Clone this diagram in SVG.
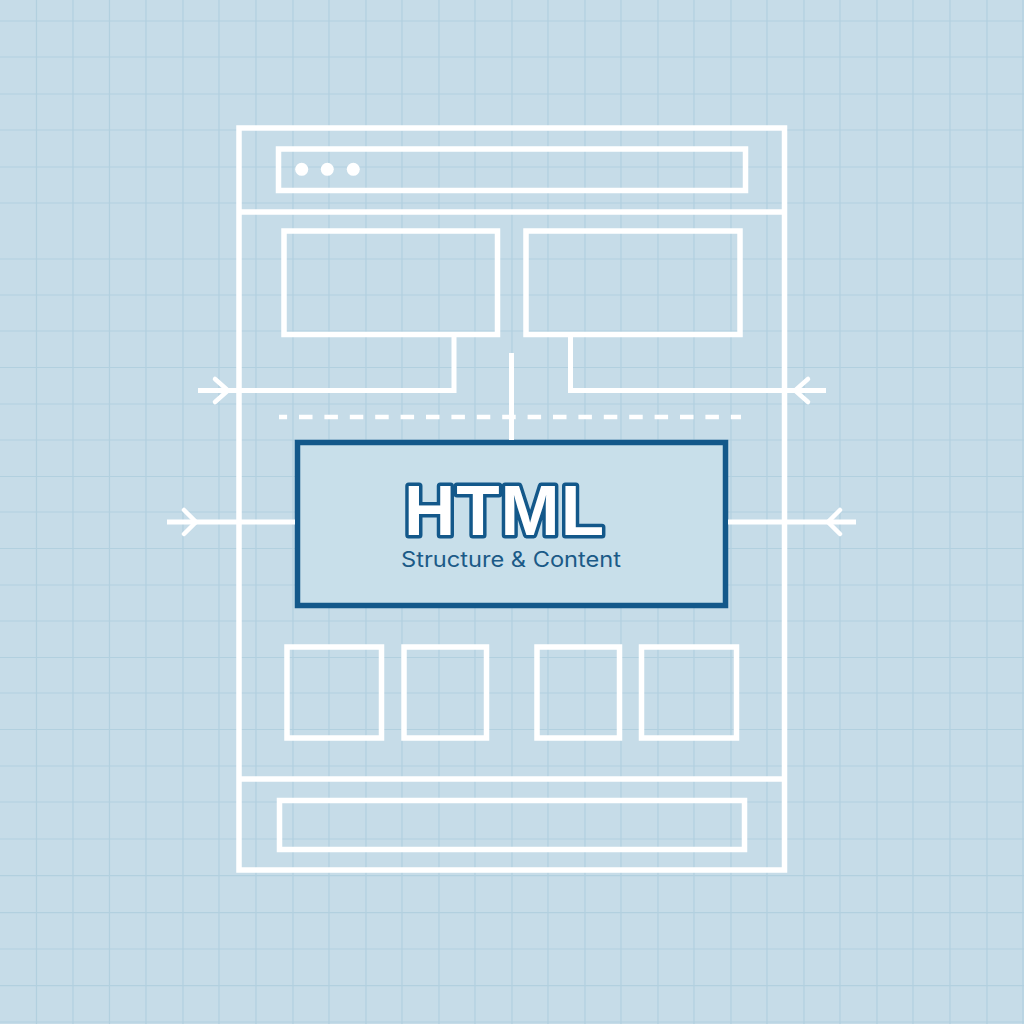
<svg xmlns="http://www.w3.org/2000/svg" width="1024" height="1024" viewBox="0 0 1024 1024">
<defs>
<style>
.grid{stroke:#b2d0df;stroke-width:1.2;fill:none}
.w{fill:none;stroke:#ffffff;stroke-width:5.5;stroke-linecap:butt;stroke-linejoin:miter}
.conn{fill:none;stroke:#ffffff;stroke-width:5;stroke-linecap:butt;stroke-linejoin:miter}
.chev{fill:none;stroke:#ffffff;stroke-width:4.5;stroke-linecap:round;stroke-linejoin:miter}
.dash{fill:none;stroke:#ffffff;stroke-width:4.5;stroke-dasharray:13.5 11.9}
.dot{fill:#ffffff}
.html{fill:#c8dfea;stroke:#13588a;stroke-width:5.5}
.title{font-family:"Liberation Sans",Arial,sans-serif;font-weight:bold;font-size:71px;letter-spacing:1px;fill:#ffffff;stroke:#13588a;stroke-width:7;paint-order:stroke;stroke-linejoin:round}
.sub{font-family:Inter,"Liberation Sans",sans-serif;font-size:21px;fill:#1b5a87}
</style>
</defs>
<rect width="1024" height="1024" fill="#c6dce8"/>
<g id="grid" class="grid">
<path d="M36.5 0V1024M73 0V1024M109.5 0V1024M146 0V1024M183 0V1024M219 0V1024M256 0V1024M293 0V1024M329 0V1024M366 0V1024M402 0V1024M439 0V1024M475 0V1024M512 0V1024M548 0V1024M585 0V1024M621 0V1024M658 0V1024M694 0V1024M731 0V1024M767 0V1024M804 0V1024M840 0V1024M877 0V1024M913 0V1024M950 0V1024M987 0V1024M1023 0V1024"/>
<path d="M0 21H1024M0 57H1024M0 94H1024M0 130H1024M0 167H1024M0 203H1024M0 259H1024M0 295H1024M0 331H1024M0 367.5H1024M0 404H1024M0 440H1024M0 476.5H1024M0 512H1024M0 548.5H1024M0 585H1024M0 621H1024M0 657.5H1024M0 693H1024M0 729.5H1024M0 766H1024M0 802H1024M0 839H1024M0 875.7H1024M0 912.7H1024M0 949H1024M0 985.7H1024M0 1022H1024"/>
</g>
<g id="frame">
<rect class="w" x="239" y="128" width="545.5" height="742"/>
<line class="w" x1="239" y1="212" x2="784.5" y2="212"/>
<line class="w" x1="239" y1="779" x2="784.5" y2="779"/>
</g>
<g id="address-bar">
<rect class="w" x="278.5" y="149" width="467" height="41.5"/>
<circle class="dot" cx="301.7" cy="169.3" r="6.5"/>
<circle class="dot" cx="327.3" cy="169.3" r="6.5"/>
<circle class="dot" cx="353.3" cy="169.3" r="6.5"/>
</g>
<g id="box-top-left"><rect class="w" x="284" y="231" width="213.5" height="103.5"/></g>
<g id="box-top-right"><rect class="w" x="526" y="231" width="214" height="103.5"/></g>
<g id="html-box">
<rect class="html" x="297.5" y="442.5" width="428" height="163"/>
<text class="title" x="504.5" y="535" text-anchor="middle">HTML</text>
<text class="sub" x="511" y="567" text-anchor="middle" textLength="220" lengthAdjust="spacingAndGlyphs">Structure &amp; Content</text>
</g>
<g id="square-1"><rect class="w" x="287" y="647" width="94.5" height="91"/></g>
<g id="square-2"><rect class="w" x="404" y="647" width="82.5" height="91"/></g>
<g id="square-3"><rect class="w" x="537" y="647" width="82.5" height="91"/></g>
<g id="square-4"><rect class="w" x="641.5" y="647" width="95" height="91"/></g>
<g id="footer-bar"><rect class="w" x="279.5" y="800.5" width="465" height="49"/></g>
<g id="connectors">
<polyline class="conn" points="454,334.5 454,390.5 198,390.5"/>
<polyline class="chev" points="215,379 228,390.5 215,402"/>
<polyline class="conn" points="570.5,334.5 570.5,390.5 826,390.5"/>
<polyline class="chev" points="808,379 795,390.5 808,402"/>
<line class="conn" x1="511.5" y1="353" x2="511.5" y2="440"/>
<line class="dash" x1="279" y1="417" x2="741" y2="417" stroke-dashoffset="5.4"/>
<line class="conn" x1="167" y1="522" x2="295" y2="522"/>
<polyline class="chev" points="184,510 196,522 184,534"/>
<line class="conn" x1="728" y1="522" x2="856" y2="522"/>
<polyline class="chev" points="840,510 828,522 840,534"/>
</g>
</svg>
